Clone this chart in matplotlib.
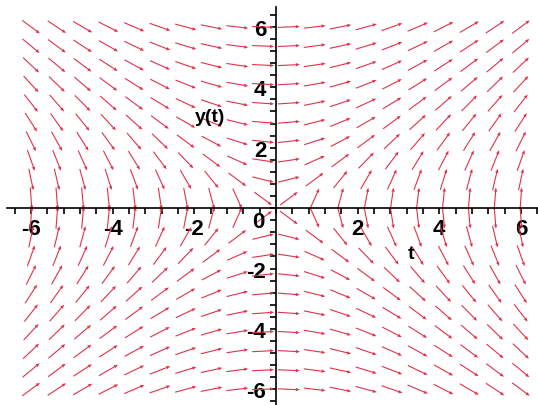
import numpy as np
import matplotlib
matplotlib.use("Agg")
import matplotlib.pyplot as plt
from matplotlib.ticker import MultipleLocator, FixedLocator

# Direction field for the ODE  dy/dt = t / y  on a 20 x 20 grid
t_values = np.linspace(-6, 6, 20)
y_values = np.linspace(-6, 6, 20)
x_tick_values = [-6, -4, -2, 2, 4, 6]
y_tick_values = [-6, -4, -2, 2, 4, 6]
x_tick_labels = ["-6", "-4", "-2", "2", "4", "6"]
y_tick_labels = ["-6", "-4", "-2", "2", "4", "6"]


def slope(t, y):
    return t / y


W, H, DPI = 538, 406, 100
fig = plt.figure(figsize=(W / DPI, H / DPI), dpi=DPI)
ax = fig.add_axes([7 / W, 0.0, 1 - 7 / W, (H - 8) / H])
xlim = (-6.59, 6.42)
ylim = (-6.52, 6.66)
ax.set_xlim(*xlim)
ax.set_ylim(*ylim)

# pixel scale of one data unit in each direction
ax_w_px = W * (1 - 7 / W)
ax_h_px = H - 8
px_per_t = ax_w_px / (xlim[1] - xlim[0])
px_per_y = ax_h_px / (ylim[1] - ylim[0])

T, Y = np.meshgrid(t_values, y_values)
S = slope(T, Y)
U = px_per_t * np.ones_like(S)
V = px_per_y * S
norm = np.hypot(U, V)
U, V = U / norm, V / norm

red = "#e0304a"
ax.quiver(T, Y, U, V, angles="uv", pivot="mid", units="dots",
          scale_units="dots", scale=1 / 22, width=1.1,
          headwidth=3.2, headlength=3.8, headaxislength=3.4,
          color=red, zorder=2)

# axes through the origin
for side in ("top", "right"):
    ax.spines[side].set_visible(False)
ax.spines["left"].set_position(("data", 0))
ax.spines["bottom"].set_position(("data", 0))
for side in ("left", "bottom"):
    ax.spines[side].set_linewidth(1.2)
    ax.spines[side].set_zorder(3)

ax.xaxis.set_major_locator(FixedLocator(x_tick_values))
ax.yaxis.set_major_locator(FixedLocator(y_tick_values))
ax.xaxis.set_minor_locator(MultipleLocator(0.4))
ax.yaxis.set_minor_locator(MultipleLocator(0.4))
ax.set_xticklabels(x_tick_labels)
ax.set_yticklabels(y_tick_labels)
ax.tick_params(which="both", direction="out", length=4, width=1.2,
               color="black")
ax.tick_params(axis="x", which="major", pad=3)
ax.tick_params(axis="y", which="major", pad=3)

font = dict(family="Liberation Sans", weight="bold", size=16)
for lab in ax.get_xticklabels() + ax.get_yticklabels():
    lab.set_fontfamily(font["family"])
    lab.set_fontweight(font["weight"])
    lab.set_fontsize(font["size"])

ax.text(-0.44, -0.43, "0", ha="center", va="center", **font)
ax.text(-1.62, 3.05, "y(t)", ha="center", va="center",
        family="Liberation Sans", weight="bold", size=14)
ax.text(3.31, -1.49, "t", ha="center", va="center",
        family="Liberation Sans", weight="bold", size=14)

fig.savefig("out.png", dpi=DPI)
